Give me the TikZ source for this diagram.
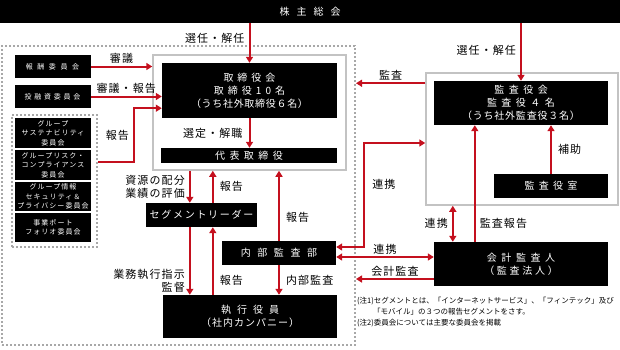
\documentclass[tikz,border=0pt]{standalone}
\usepackage{fontspec}
\setmainfont{Noto Sans CJK JP}
\usepackage{tikz}
\usetikzlibrary{positioning}
\usetikzlibrary{arrows.meta}
\usetikzlibrary{calc}
\definecolor{linkred}{HTML}{C4101E}
\definecolor{framegray}{HTML}{C3C3C3}
\definecolor{dotgray}{HTML}{A8A8A8}
\newcommand{\tracked}[2]{{\addfontfeature{LetterSpace=#1}#2}}
\tikzset{
  % A black organ box with white text: width / height
  body/.style 2 args={
    draw=none, fill=black, text=white, align=center, inner sep=0pt,
    font=\fontsize{10}{13}\selectfont, minimum width=#1, minimum height=#2},
  % A small committee box
  cmt/.style={
    fill=black, text=white, align=center, inner sep=0pt, minimum width=76pt,
    font=\fontsize{7}{9.5}\selectfont\addfontfeature{LetterSpace=15}},
  % Frames round a group of boxes
  frame/.style={draw=framegray, line width=1.5pt, inner sep=0pt},
  dotframe/.style={draw=dotgray, line width=2pt, dash pattern=on 2pt off 2pt, inner sep=0pt},
  % Relationships
  rel/.style={draw=linkred, line width=2pt, -{Triangle[length=6pt,width=7pt]}},
  relboth/.style={draw=linkred, line width=2pt,
    {Triangle[length=6pt,width=7pt]}-{Triangle[length=6pt,width=7pt]}},
  lbl/.style={font=\fontsize{11}{13}\selectfont\addfontfeature{LetterSpace=10},
    inner sep=1pt, text=black},
}

\begin{document}
\begin{tikzpicture}[x=1pt, y=-1pt]
  \useasboundingbox (0,0) rectangle (620,349);

  % frames
  \node[dotframe, minimum width=353pt, minimum height=299pt] (grp) at (178.5,195.5) {};
  \node[dotframe, minimum width=85pt, minimum height=132pt] (cmtgrp) at (54.5,181) {};
  \node[frame, minimum width=193pt, minimum height=115pt] (torbox) at (249.5,112.5) {};
  \node[frame, minimum width=192pt, minimum height=132pt] (kanbox) at (522,139) {};

  % organs
  \node[body={620pt}{23pt}] (kabu) at (310,11.5) {\tracked{70}{株主総会}};
  \node[body={175pt}{55pt}] (tor) at (249.5,90.5)
    {\tracked{40}{取締役会}\\\tracked{40}{取締役10名}\\\tracked{7}{（うち社外取締役６名）}};
  \node[body={176pt}{15pt}] (dai) at (249,155.5) {\tracked{44}{代表取締役}};
  \node[body={111pt}{24pt}] (seg) at (201.5,215) {\tracked{17}{セグメントリーダー}};
  \node[body={114pt}{24pt}] (nai) at (279,253) {\tracked{66}{内部監査部}};
  \node[body={174pt}{43pt}] (shi) at (250,316.5)
    {\tracked{60}{執行役員}\\\tracked{10}{（社内カンパニー）}};
  \node[body={174pt}{44pt}] (kan) at (521,103)
    {\tracked{45}{監査役会}\\\tracked{45}{監査役４名}\\\tracked{8}{（うち社外監査役３名）}};
  \node[body={114pt}{24pt}] (kshitsu) at (551,186) {\tracked{43}{監査役室}};
  \node[body={174pt}{44pt}] (kai) at (521,264)
    {\tracked{46}{会計監査人}\\\tracked{27}{（監査法人）}};

  % committees
  \node[cmt, minimum height=23pt] (hoshu) at (52.5,66.5) {\tracked{66}{報酬委員会}};
  \node[cmt, minimum height=23pt] (toyushi) at (52.5,96.5) {\tracked{40}{投融資委員会}};
  \node[cmt, minimum height=30pt] (sus) at (53,133) {グループ\\サステナビリティ\\委員会};
  \node[cmt, minimum height=30pt] (risk) at (53,165) {グループリスク・\\コンプライアンス\\委員会};
  \node[cmt, minimum height=29pt] (sec) at (53,196.5) {グループ情報\\セキュリティ＆\\プライバシー委員会};
  \node[cmt, minimum height=29pt] (pf) at (53,227.5) {事業ポート\\フォリオ委員会};

  % board side
  \draw[rel] (kabu.south -| tor.north) -- node[lbl, pos=0.375, left=3pt] {選任・解任} (tor.north);
  \draw[rel] (kabu.south -| kan.north) -- node[lbl, pos=0.47, left=3pt] {選任・解任} (kan.north);
  \draw[rel] (hoshu.east) -- node[lbl, above=1pt] {審議} (hoshu.east -| torbox.west);
  \draw[rel] (toyushi.east) -- node[lbl, above=1pt] {審議・報告} (toyushi.east -| tor.west);
  \draw[rel] ($(cmtgrp.east |- risk.east)+(0,-3)$) -- ++(36,0)
    |- node[lbl, pos=0.25, left=3pt] {報告} ($(tor.south west)+(0,-10)$);
  \draw[rel] (tor.south) -- node[lbl, left=5pt] {選定・解職} (tor.south |- dai.north);

  % execution
  \coordinate (segl) at ($(seg.north west)+(44,0)$);
  \coordinate (segr) at ($(seg.north west)+(67,0)$);
  \draw[rel] (segl |- torbox.south) -- node[lbl, left=3pt, align=right] {資源の配分\\業績の評価} (segl);
  \draw[rel] (segr) -- node[lbl, right=5pt] {報告} (segr |- torbox.south);
  \draw[rel] (segl |- seg.south) -- node[lbl, pos=0.8, left=3pt, align=right] {業務執行指示\\監督} (segl |- shi.north);
  \draw[rel] (segr |- shi.north) -- node[lbl, pos=0.22, right=5pt] {報告} (segr |- seg.south);
  \draw[rel] (nai.north) -- node[lbl, pos=0.34, right=5pt] {報告} (nai.north |- torbox.south);
  \draw[rel] (nai.south) -- node[lbl, right=5pt] {内部監査} (nai.south |- shi.north);

  % audit side
  \coordinate (auditout) at ($(kanbox.north west)+(0,11)$);
  \draw[rel] (auditout) -- node[lbl, above=1pt] {監査} (auditout -| grp.east);
  \coordinate (linkin) at ($(kanbox.west)+(0,4)$);
  \draw[relboth] ($(nai.east)+(0,-6)$) -| node[lbl, pos=0.8, right=6pt] {連携} ($(linkin)+(-61,0)$) -- (linkin);
  \coordinate (kailink) at ($(nai.east)+(0,4)$);
  \draw[relboth] (kailink) -- node[lbl, above=1pt] {連携} (kailink -| kai.west);
  \coordinate (acct) at ($(kai.west)+(0,15)$);
  \draw[rel] (acct) -- node[lbl, above=1pt] {会計監査} (acct -| grp.east);
  \coordinate (kanlink) at ($(kai.north west)+(19,0)$);
  \draw[relboth] (kanlink) -- node[lbl, left=3pt] {連携} (kanlink |- kanbox.south);
  \coordinate (kaireport) at ($(kai.north west)+(41,0)$);
  \draw[rel] (kaireport) -- node[lbl, pos=0.16, right=3pt] {監査報告} (kaireport |- kan.south);
  \draw[rel] (kshitsu.north) -- node[lbl, right=5pt] {補助} (kshitsu.north |- kan.south);

  % notes
  \node[font=\fontsize{7.5}{11}\selectfont, align=left, anchor=north west, inner sep=0pt] (notes) at (357,297)
    {(注1)セグメントとは、「インターネットサービス」、「フィンテック」及び\\
     \hspace*{16pt}「モバイル」の３つの報告セグメントをさす。\\
     (注2)委員会については主要な委員会を掲載};

\end{tikzpicture}
\end{document}
